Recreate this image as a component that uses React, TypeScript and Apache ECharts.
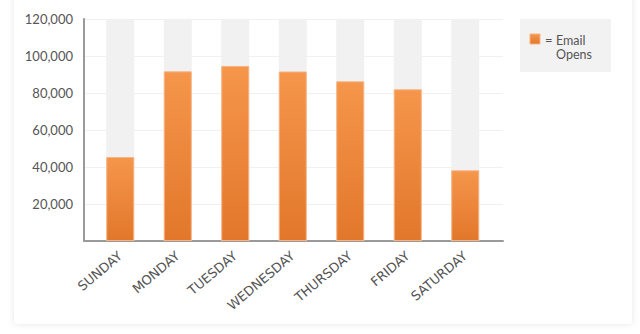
import React, { useEffect, useRef } from "react";
import * as echarts from "echarts";

const days = ["SUNDAY", "MONDAY", "TUESDAY", "WEDNESDAY", "THURSDAY", "FRIDAY", "SATURDAY"];
const emailOpens = [45400, 91700, 94600, 91600, 86300, 82000, 38200];
const yMin = 0;
const yMax = 120000;
const yInterval = 20000;
const seriesName = "Email Opens";
const legendSign = "=";
const legendLines = ["Email", "Opens"];

const FONT = "Lato, 'Open Sans', sans-serif";
const XFONT = "'DejaVu Sans', sans-serif";

export default function App() {
  const ref = useRef<HTMLDivElement>(null);
  useEffect(() => {
    if (!ref.current) return;
    const chart = echarts.init(ref.current, null, { renderer: "svg" });
    const orange = new echarts.graphic.LinearGradient(0, 0, 0, 1, [
      { offset: 0, color: "#F5964B" },
      { offset: 1, color: "#E2772B" },
    ]);
    chart.setOption({
      animation: false,
      backgroundColor: "#ffffff",
      textStyle: { fontFamily: FONT },
      grid: [
        { left: 84, right: 137, top: 19, bottom: 93 },
        { left: 91.5, right: 146, top: 19, bottom: 93 },
      ],
      xAxis: [
        {
          gridIndex: 0,
          type: "value",
          min: 0,
          max: 1,
          axisLine: { show: true, lineStyle: { color: "#9a9a9a", width: 2 } },
          axisTick: { show: false },
          axisLabel: { show: false },
          splitLine: { show: false },
        },
        {
          gridIndex: 1,
          type: "category",
          data: days,
          axisLine: { show: false },
          axisTick: { show: false },
          axisLabel: {
            rotate: 40,
            margin: 13,
            fontSize: 13,
            color: "#555",
            fontFamily: XFONT,
          },
        },
      ],
      yAxis: [
        {
          gridIndex: 0,
          type: "value",
          min: yMin,
          max: yMax,
          interval: yInterval,
          axisLine: { show: true, lineStyle: { color: "#9a9a9a", width: 2 } },
          axisTick: { show: false },
          axisLabel: {
            margin: 11,
            fontSize: 13,
            color: "#555",
            fontFamily: FONT,
            formatter: (v: number) => (v === 0 ? "" : v.toLocaleString("en-US")),
          },
          splitLine: { show: true, lineStyle: { color: "#f0f0f0", width: 1 } },
        },
        {
          gridIndex: 1,
          type: "value",
          min: yMin,
          max: yMax,
          interval: yInterval,
          show: false,
          splitLine: { show: false },
        },
      ],
      series: [
        {
          name: seriesName,
          type: "bar",
          xAxisIndex: 1,
          yAxisIndex: 1,
          data: emailOpens,
          barWidth: 28,
          showBackground: true,
          backgroundStyle: { color: "#f1f1f1" },
          itemStyle: { color: orange, borderColor: "#F7B383", borderWidth: 1 },
        },
      ],
      graphic: [
        {
          type: "rect",
          z: -100,
          shape: { x: 14, y: -20, width: 618, height: 344, r: 4 },
          style: { fill: "#ffffff", shadowBlur: 6, shadowColor: "rgba(0,0,0,0.10)" },
        },
        {
          type: "rect",
          shape: { x: 520, y: 19, width: 91, height: 53 },
          style: { fill: "#f2f2f2" },
        },
        {
          type: "rect",
          shape: { x: 530, y: 34, width: 10, height: 10 },
          style: { fill: orange, stroke: "#F7B383", lineWidth: 1 },
        },
        {
          type: "text",
          x: 545,
          y: 40,
          style: { text: legendSign, fill: "#555", font: `13px ${FONT}`, verticalAlign: "middle" },
        },
        {
          type: "text",
          x: 556,
          y: 40,
          style: { text: legendLines[0], fill: "#555", font: `12.5px ${FONT}`, verticalAlign: "middle" },
        },
        {
          type: "text",
          x: 556,
          y: 54,
          style: { text: legendLines[1], fill: "#555", font: `12.5px ${FONT}`, verticalAlign: "middle" },
        },
      ],
    });
    return () => chart.dispose();
  }, []);
  return (
    <div
      ref={ref}
      style={{ position: "absolute", left: 0, top: 0, width: 640, height: 334, background: "#fff" }}
    />
  );
}
